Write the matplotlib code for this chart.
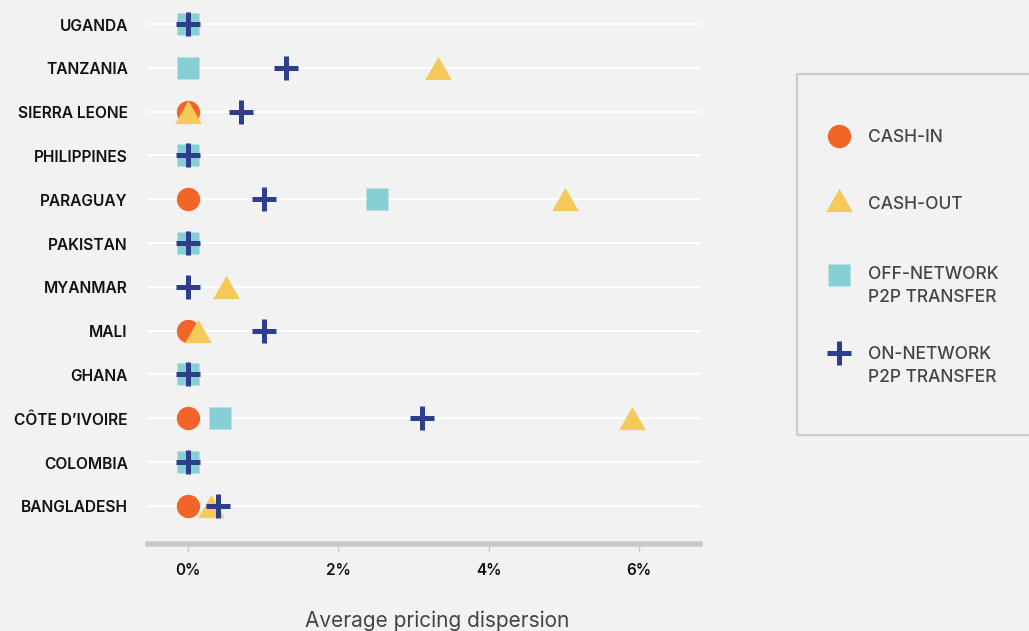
import numpy as np
import matplotlib
matplotlib.use("Agg")
import matplotlib.pyplot as plt
from matplotlib.patches import Rectangle
from matplotlib.transforms import ScaledTranslation

plt.rcParams['font.family'] = ['Inter', 'DejaVu Sans']

# Countries, bottom row first
countries = ["BANGLADESH", "COLOMBIA", "CÔTE D\u2019IVOIRE", "GHANA", "MALI", "MYANMAR",
             "PAKISTAN", "PARAGUAY", "PHILIPPINES", "SIERRA LEONE", "TANZANIA", "UGANDA"]
nan = np.nan
cash_in = [0.0, nan, 0.0, nan, 0.0, nan, nan, 0.0, nan, 0.0, nan, nan]
cash_out = [0.31, nan, 5.90, nan, 0.13, 0.51, nan, 5.01, nan, 0.0, 3.32, nan]
off_network = [nan, 0.0, 0.43, 0.0, nan, nan, 0.0, 2.52, 0.0, nan, 0.0, 0.0]
on_network = [0.40, 0.0, 3.12, 0.0, 1.01, 0.0, 0.0, 1.01, 0.0, 0.70, 1.31, 0.0]
x_ticks = [0, 2, 4, 6]
x_tick_labels = ["0%", "2%", "4%", "6%"]
legend_labels = [["CASH-IN"], ["CASH-OUT"], ["OFF-NETWORK", "P2P TRANSFER"],
                 ["ON-NETWORK", "P2P TRANSFER"]]

BG = "#f1f2f1"
ORANGE = "#f26529"
YELLOW = "#f5c95a"
TEAL = "#86d0d5"
NAVY = "#2d3f8a"

W, H = 1029, 631
fig = plt.figure(figsize=(W / 100, H / 100), dpi=100, facecolor=BG)
ax = fig.add_axes([148 / W, (H - 544) / H, (700 - 148) / W, 544 / H])
ax.set_facecolor(BG)

# Slightly flattened triangle marker
tri = [(-1.0, -0.87), (1.0, -0.87), (0.0, 0.87), (-1.0, -0.87)]

styles = [
    dict(marker="o", ms=16.8, color=ORANGE, mec="none"),
    dict(marker=tri, ms=19.2, color=YELLOW, mec="none"),
    dict(marker="s", ms=15.2, color=TEAL, mec="none"),
    dict(marker="+", ms=16.8, color=NAVY, mew=3.6),
]
series = [cash_in, cash_out, off_network, on_network]

y = np.arange(len(countries))
for i, (vals, st) in enumerate(zip(series, styles)):
    ax.plot(vals, y, ls="none", zorder=3 + i, **st)

ax.set_xlim(-0.53, 6.81)
ax.set_ylim(-0.87, 11.55)
ax.set_yticks(y)
ax.set_yticklabels(countries, fontsize=11.2, fontweight="semibold", color="#111111")
ax.tick_params(axis="y", length=0, pad=14.5)
shift = ScaledTranslation(0, -1.5 / 72, fig.dpi_scale_trans)
for t in ax.get_yticklabels():
    t.set_verticalalignment("center")
    t.set_transform(t.get_transform() + shift)
ax.set_xticks(x_ticks)
ax.set_xticklabels(x_tick_labels, fontsize=11, fontweight="semibold", color="#111111")
ax.tick_params(axis="x", length=5.8, width=0.9, color="#c8c8c8", pad=8)

for yy in y:
    ax.axhline(yy, color="white", lw=1.5, zorder=1)

for s in ["left", "right", "top"]:
    ax.spines[s].set_visible(False)
ax.spines["bottom"].set_color("#c8c8c8")
ax.spines["bottom"].set_linewidth(4.0)
ax.spines["bottom"].set_zorder(2)

fig.text(437 / W, (H - 627) / H, "Average pricing dispersion", fontsize=15,
         color="#444444", ha="center", va="baseline")

# Legend panel
fig.add_artist(Rectangle((797 / W, (H - 435) / H), 300 / W, 361 / H,
                         transform=fig.transFigure, facecolor="none",
                         edgecolor="#cccccc", lw=1.6, clip_on=False))
lax = fig.add_axes([0, 0, 1, 1], facecolor="none")
lax.set_xlim(0, W)
lax.set_ylim(H, 0)
lax.axis("off")
key_y = [136, 200, 275, 353]
text_y = [135, 202, 272, 352]
for ky, ty, st, lines in zip(key_y, text_y, styles, legend_labels):
    lax.plot([839], [ky], ls="none", **st)
    for j, line in enumerate(lines):
        lax.text(868, ty + 23 * j + 6.8, line, fontsize=12.5, color="#444444",
                 va="baseline", ha="left", fontweight="medium")

fig.savefig("out.png", dpi=100, facecolor=BG)
